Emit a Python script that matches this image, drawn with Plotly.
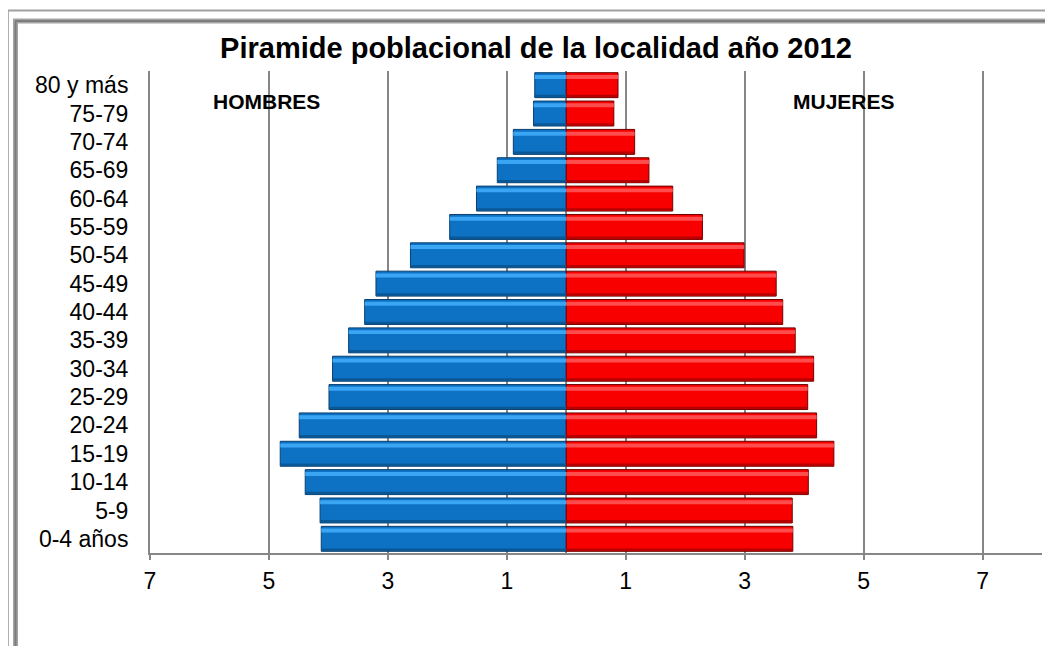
import plotly.graph_objects as go

# ---------------- data ----------------
age_groups = ["0-4 años", "5-9", "10-14", "15-19", "20-24", "25-29", "30-34",
              "35-39", "40-44", "45-49", "50-54", "55-59", "60-64", "65-69",
              "70-74", "75-79", "80 y más"]
hombres = [4.12, 4.14, 4.39, 4.81, 4.49, 3.99, 3.93, 3.66, 3.39, 3.20,
           2.62, 1.96, 1.51, 1.16, 0.89, 0.55, 0.53]
mujeres = [3.81, 3.80, 4.07, 4.50, 4.21, 4.06, 4.16, 3.85, 3.64, 3.53,
           2.99, 2.29, 1.79, 1.39, 1.15, 0.80, 0.87]
tick_values = [-7, -5, -3, -1, 1, 3, 5, 7]
tick_labels = ["7", "5", "3", "1", "1", "3", "5", "7"]

title_text = "Piramide poblacional de la localidad año 2012"
label_h = "HOMBRES"
label_m = "MUJERES"

# ---------------- layout geometry ----------------
# the page body has an 8px margin, so the figure is drawn 8px smaller and
# every target pixel coordinate is shifted by OFF
OFF = 8
W, H = 1053 - 2 * OFF, 654 - 2 * OFF
L = 150 - OFF
T = 71 - OFF
R = W - (1042 - OFF)
B = H - (553 - OFF)
PW, PH = W - L - R, H - T - B


def px(x):
    return (x - OFF - L) / PW


def py(y):
    return (H - B - (y - OFF)) / PH


FONT = "Liberation Sans, Arial, sans-serif"
GRID = "#868686"

men_x = [-v for v in hombres]

fig = go.Figure()

# layered bars to imitate the bevelled 3D look
layers = [
    # (width, offset, blue, red, line)
    (0.88, -0.44, "#0d72c4", "#f80000", True),
    (0.14, 0.22, "#3aa5f3", "#ff4d4d", False),
    (0.09, -0.43, "#0a5796", "#b80000", False),
]
for w, off, cb, cr, ln in layers:
    fig.add_trace(go.Bar(
        y=age_groups, x=men_x, orientation="h", width=w, offset=off,
        marker=dict(color=cb, line=dict(color="#0a3f6e" if ln else cb, width=1 if ln else 0)),
        showlegend=False, hoverinfo="skip" if not ln else None, name="Hombres"))
    fig.add_trace(go.Bar(
        y=age_groups, x=mujeres, orientation="h", width=w, offset=off,
        marker=dict(color=cr, line=dict(color="#6e0000" if ln else cr, width=1 if ln else 0)),
        showlegend=False, hoverinfo="skip" if not ln else None, name="Mujeres"))

# frame shapes (chart border)
shapes = [
    dict(type="line", xref="paper", yref="paper", x0=px(8.5), x1=px(8.5), y0=py(10), y1=py(700),
         line=dict(color="#b0b0b0", width=1)),
    dict(type="line", xref="paper", yref="paper", x0=px(8), x1=px(1100), y0=py(10.5), y1=py(10.5),
         line=dict(color="#a0a0a0", width=2)),
    dict(type="line", xref="paper", yref="paper", x0=px(15.5), x1=px(15.5), y0=py(19), y1=py(700),
         line=dict(color="#a4a4a4", width=5)),
    dict(type="line", xref="paper", yref="paper", x0=px(13), x1=px(1100), y0=py(21), y1=py(21),
         line=dict(color="#a4a4a4", width=5)),
    dict(type="line", xref="paper", yref="paper", x0=px(15.5), x1=px(15.5), y0=py(21), y1=py(700),
         line=dict(color="#7c7c7c", width=2)),
    dict(type="line", xref="paper", yref="paper", x0=px(15), x1=px(1100), y0=py(21), y1=py(21),
         line=dict(color="#7c7c7c", width=2)),
]

fig.update_layout(
    width=W, height=H,
    margin=dict(l=L, r=R, t=T, b=B, pad=0),
    paper_bgcolor="white", plot_bgcolor="white",
    barmode="overlay",
    font=dict(family=FONT, color="black", size=23),
    title=dict(text="<b>" + title_text + "</b>", x=px(536), xref="paper", xanchor="center",
               y=1 - (48 - OFF) / H, yref="container", yanchor="middle",
               font=dict(family=FONT, size=29, color="black")),
    shapes=shapes,
    annotations=[
        dict(text="<b>" + label_h + "</b>", x=px(266.5), y=py(101), xref="paper", yref="paper",
             showarrow=False, xanchor="center", yanchor="middle",
             font=dict(family=FONT, size=21, color="black")),
        dict(text="<b>" + label_m + "</b>", x=px(844), y=py(101), xref="paper", yref="paper",
             showarrow=False, xanchor="center", yanchor="middle",
             font=dict(family=FONT, size=21, color="black")),
    ],
    xaxis=dict(range=[-7, 8], tickvals=tick_values, ticktext=tick_labels,
               showgrid=True, gridcolor=GRID, gridwidth=2,
               showline=True, linecolor=GRID, linewidth=2,
               ticks="outside", ticklen=5, tickwidth=2, tickcolor=GRID,
               zeroline=True, zerolinecolor=GRID, zerolinewidth=2,
               tickfont=dict(family=FONT, size=23, color="black"),
               ticklabelstandoff=1, fixedrange=True),
    yaxis=dict(type="category", categoryorder="array", categoryarray=age_groups,
               range=[-0.5, len(age_groups) - 0.5],
               showgrid=False, showline=True, linecolor=GRID, linewidth=2,
               ticks="", tickfont=dict(family=FONT, size=23, color="black"),
               ticklabelstandoff=15, fixedrange=True),
)

fig.write_html("out.html")
